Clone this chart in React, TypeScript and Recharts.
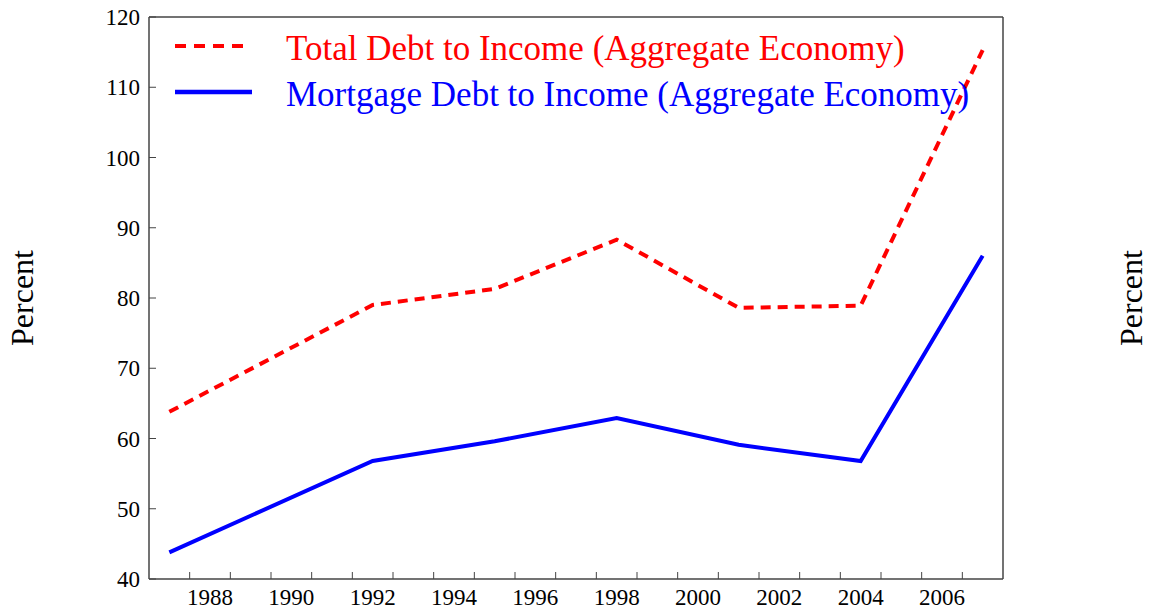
import { LineChart, Line, XAxis, YAxis, ReferenceLine, Label } from 'recharts'

// Survey years and ratios (percent of income)
const years = [1987, 1992, 1995, 1998, 2001, 2004, 2007]
const totalDebt = [63.8, 79.0, 81.3, 88.3, 78.6, 78.9, 115.3]
const mortgageDebt = [43.8, 56.8, 59.6, 62.9, 59.1, 56.8, 86.0]

const seriesNames = [
  'Total Debt to Income (Aggregate Economy)',
  'Mortgage Debt to Income (Aggregate Economy)',
]

const yTicks = [40, 50, 60, 70, 80, 90, 100, 110, 120]
const xLabelYears = [1988, 1990, 1992, 1994, 1996, 1998, 2000, 2002, 2004, 2006]
const xTickMarks = [
  1987.5, 1988.5, 1989.5, 1990.5, 1991.5, 1992.5, 1993.5, 1994.5, 1995.5, 1996.5,
  1997.5, 1998.5, 1999.5, 2000.5, 2001.5, 2002.5, 2003.5, 2004.5, 2005.5, 2006.5,
]

const data = years.map((year, i) => ({
  year,
  total: totalDebt[i],
  mortgage: mortgageDebt[i],
}))

const FONT = '"Liberation Serif", "Times New Roman", serif'
const AXIS = '#444'
const RED = '#ff0000'
const BLUE = '#0000ff'

// labels sit on whole years, tick marks (pointing inward) on half years
const XTick = ({ x, y, payload }: any) => {
  if (Number.isInteger(payload.value)) {
    return (
      <text x={x} y={y + 26} textAnchor="middle" fontSize={23} fontFamily={FONT} fill="#000">
        {payload.value}
      </text>
    )
  }
  return <line x1={x} x2={x} y1={y} y2={y - 7} stroke={AXIS} strokeWidth={1} />
}

const LeftTick = ({ x, y, payload }: any) => (
  <g>
    <line x1={x} x2={x + 7} y1={y} y2={y} stroke={AXIS} strokeWidth={1} />
    <text x={x - 9} y={y} dy="0.35em" textAnchor="end" fontSize={23} fontFamily={FONT} fill="#000">
      {payload.value}
    </text>
  </g>
)

const RightTick = ({ x, y, payload }: any) => (
  <g>
    <line x1={x} x2={x - 7} y1={y} y2={y} stroke={AXIS} strokeWidth={1} />
    <text x={x + 14} y={y} dy="0.35em" textAnchor="start" fontSize={23} fontFamily={FONT} fill="#000">
      {payload.value}
    </text>
  </g>
)

const AxisTitle = ({ viewBox, offsetX }: any) => {
  const cx = viewBox.x + offsetX
  const cy = viewBox.y + viewBox.height / 2
  return (
    <text
      x={cx}
      y={cy}
      transform={`rotate(-90, ${cx}, ${cy})`}
      textAnchor="middle"
      dominantBaseline="central"
      fontSize={32}
      fontFamily={FONT}
      fill="#000"
    >
      Percent
    </text>
  )
}

export default function App() {
  return (
    <div style={{ position: 'relative', width: 1156, height: 613, background: '#fff' }}>
      <style>{'body{margin:0}'}</style>
      <LineChart width={1156} height={613} data={data} margin={{ top: 17, right: 0, left: 0, bottom: 0 }}>
        <XAxis
          dataKey="year"
          type="number"
          domain={[1986.5, 2007.5]}
          ticks={[...xTickMarks, ...xLabelYears].sort((a, b) => a - b)}
          interval={0}
          tick={<XTick />}
          tickLine={false}
          tickSize={0}
          tickMargin={0}
          height={34}
          axisLine={{ stroke: AXIS, strokeWidth: 1.5 }}
          allowDataOverflow
        />
        <YAxis
          yAxisId="left"
          domain={[40, 120]}
          ticks={yTicks}
          interval={0}
          tick={<LeftTick />}
          tickLine={false}
          tickSize={0}
          tickMargin={0}
          width={149}
          axisLine={{ stroke: AXIS, strokeWidth: 1.5 }}
        >
          <Label content={<AxisTitle offsetX={22} />} />
        </YAxis>
        <YAxis
          yAxisId="right"
          orientation="right"
          domain={[40, 120]}
          ticks={yTicks}
          interval={0}
          tick={<RightTick />}
          tickLine={false}
          tickSize={0}
          tickMargin={0}
          width={153}
          axisLine={{ stroke: AXIS, strokeWidth: 1.5 }}
        >
          <Label content={<AxisTitle offsetX={128} />} />
        </YAxis>
        {/* top frame */}
        <ReferenceLine yAxisId="left" y={120} stroke={AXIS} strokeWidth={1.5} />
        <Line
          yAxisId="left"
          type="linear"
          dataKey="total"
          stroke={RED}
          strokeWidth={4}
          strokeDasharray="10 7"
          dot={false}
          isAnimationActive={false}
        />
        <Line
          yAxisId="left"
          type="linear"
          dataKey="mortgage"
          stroke={BLUE}
          strokeWidth={4}
          dot={false}
          isAnimationActive={false}
        />
      </LineChart>

      {/* legend */}
      <div style={{ position: 'absolute', left: 175, top: 25, fontFamily: FONT, fontSize: 35 }}>
        <div style={{ display: 'flex', alignItems: 'center', height: 46 }}>
          <svg width={111} height={46}>
            <line x1={0} x2={69} y1={21} y2={21} stroke={RED} strokeWidth={4} strokeDasharray="11 8" />
          </svg>
          <span style={{ color: RED, lineHeight: '35px', whiteSpace: 'nowrap' }}>{seriesNames[0]}</span>
        </div>
        <div style={{ display: 'flex', alignItems: 'center', height: 46 }}>
          <svg width={111} height={46}>
            <line x1={0} x2={77} y1={21} y2={21} stroke={BLUE} strokeWidth={4.5} />
          </svg>
          <span style={{ color: BLUE, lineHeight: '35px', whiteSpace: 'nowrap' }}>{seriesNames[1]}</span>
        </div>
      </div>
    </div>
  )
}
